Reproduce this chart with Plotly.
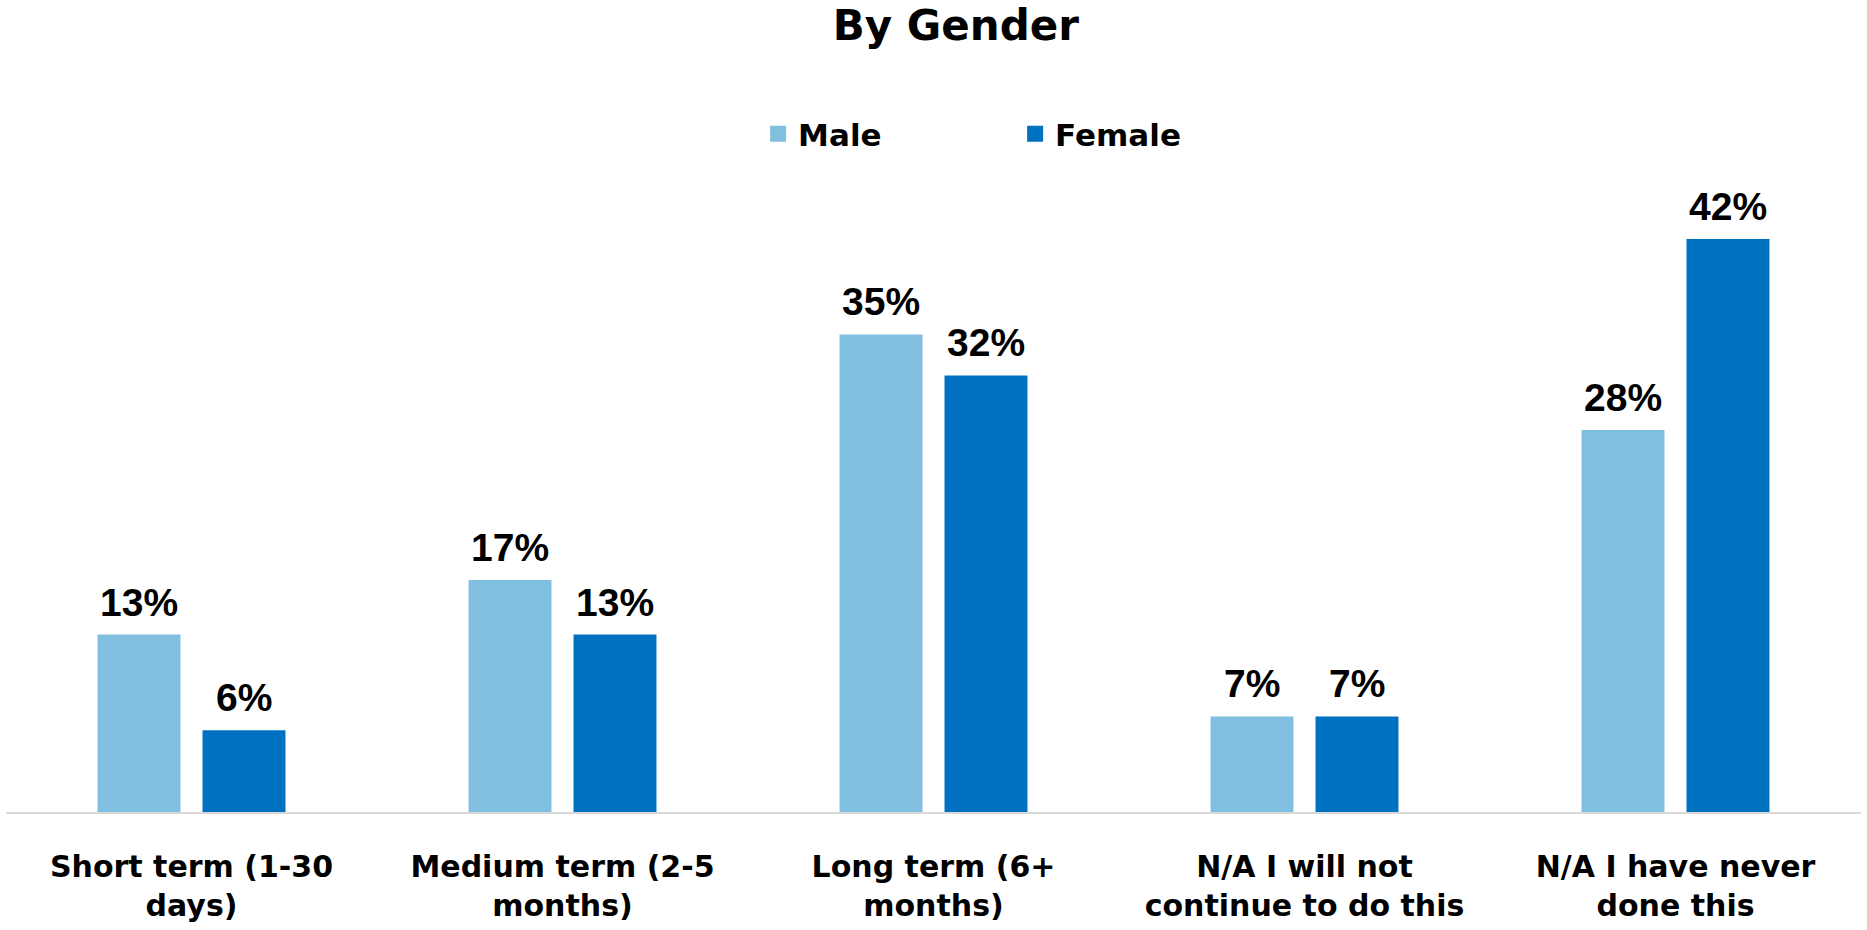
import plotly.graph_objects as go

categories = ["Short term (1-30<br>days)", "Medium term (2-5<br>months)", "Long term (6+<br>months)",
              "N/A I will not<br>continue to do this", "N/A I have never<br>done this"]
male = [13, 17, 35, 7, 28]
female = [6, 13, 32, 7, 42]
series_names = ["Male", "Female"]
colors = ["#80BFE0", "#0070C0"]
offsets = [-52.5, 52.5]

fig = go.Figure()
annotations = []
for name, vals, col, off in zip(series_names, [male, female], colors, offsets):
    fig.add_trace(go.Bar(
        x=categories, y=vals, name=name, marker=dict(color=col, line=dict(width=0)),
        showlegend=False, hoverinfo="x+y",
    ))
    # legend proxy with a larger square swatch
    fig.add_trace(go.Scatter(
        x=[categories[0]], y=[None], mode="markers", name=f"<b>{name}</b>",
        marker=dict(symbol="square", size=21, color=col), showlegend=True,
    ))
    for c, v in zip(categories, vals):
        annotations.append(dict(
            x=c, y=v, xref="x", yref="y", text=f"<b>{v}%</b>", showarrow=False,
            xanchor="center", yanchor="bottom", xshift=off, yshift=9,
            font=dict(family="Liberation Sans, Arial", size=39, color="#000000"),
        ))

fig.update_layout(
    width=1867, height=930,
    paper_bgcolor="white", plot_bgcolor="white",
    margin=dict(l=6, r=6, t=198, b=118, autoexpand=False),
    barmode="group", bargap=0.434, bargroupgap=0.21,
    title=dict(text="<b>By Gender</b>", x=0.512, xanchor="center", y=1 - 25 / 930, yanchor="middle",
               yref="container", font=dict(family="DejaVu Sans", size=42, color="#000000")),
    legend=dict(orientation="h", x=0.544, xanchor="center", y=1.104, yanchor="middle",
                font=dict(family="DejaVu Sans", size=31, color="#000000"),
                entrywidth=212, entrywidthmode="pixels", traceorder="normal",
                itemsizing="trace"),
    showlegend=True,
    annotations=annotations,
    font=dict(family="DejaVu Sans", color="#000000"),
)
fig.update_xaxes(showline=True, linecolor="#d9d9d9", linewidth=2, showgrid=False, ticks="",
                 tickfont=dict(family="DejaVu Sans", size=30, color="#000000"),
                 ticklabelstandoff=27, automargin=False,
                 tickvals=categories, ticktext=[f"<b>{c}</b>" for c in categories])
fig.update_yaxes(visible=False, range=[0, 45], showgrid=False, zeroline=False, automargin=False)

fig.write_html("out.html", config={"displayModeBar": False},
               post_script="document.body.style.margin='0';")
